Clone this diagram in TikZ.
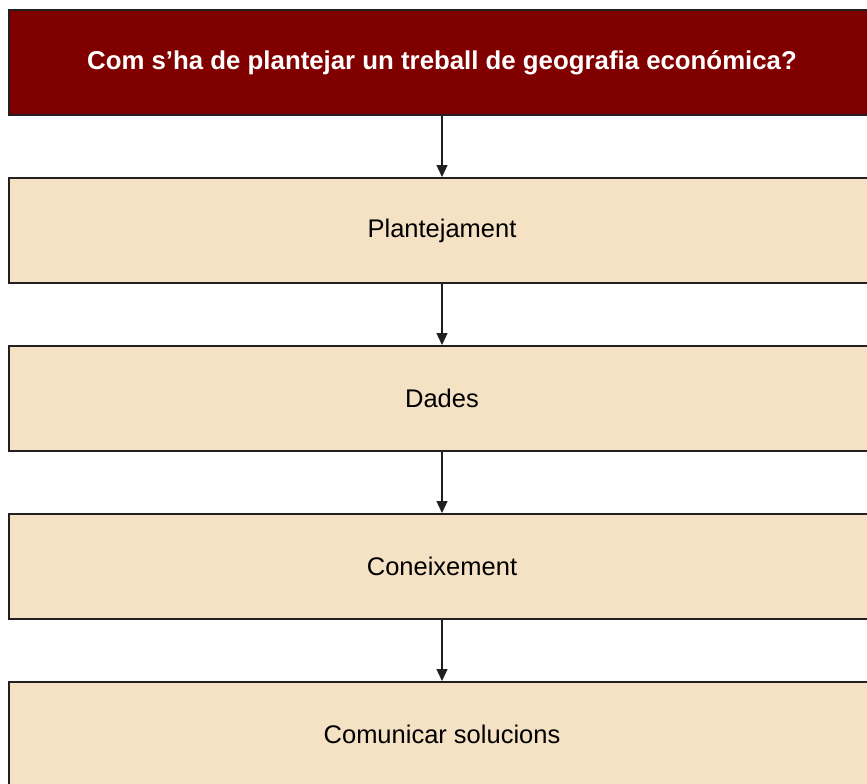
\documentclass[tikz,border=0pt]{standalone}
\usepackage{fontspec}
\setmainfont{Liberation Sans}
\usepackage{tikz}
\usetikzlibrary{shapes,arrows.meta}
\tikzstyle{block} = [rectangle, draw=bdark, line width=2pt, align=center, minimum width=866pt, minimum height=105pt, fill=bsand, font=\fontsize{25.5}{30}\selectfont]
\tikzstyle{arrow} = [draw=bdark, line width=1.4pt, -{Triangle[width=11pt,length=12pt]}]
\definecolor{bdark}{HTML}{231f20}
\definecolor{bsand}{HTML}{f5e1c4}
\definecolor{bmaroon}{HTML}{800000}

\begin{document}
\begin{tikzpicture}[auto]
\clip (0,0) rectangle (867pt,-784pt);

%% question
\node[block, fill=bmaroon, text=white, font=\bfseries\fontsize{25.8}{30}\selectfont] at (442pt,-62.5pt) (question) {Com s'ha de plantejar un treball de geografia económica?};

%% steps
\node[block] at (442pt,-230.5pt) (plantejament) {Plantejament};
\node[block] at (442pt,-398.5pt) (dades) {Dades};
\node[block] at (442pt,-566.5pt) (coneixement) {Coneixement};
\node[block] at (442pt,-734.5pt) (comunicar) {Comunicar solucions};

\path[arrow] (question.south) -- (plantejament.north);
\path[arrow] (plantejament.south) -- (dades.north);
\path[arrow] (dades.south) -- (coneixement.north);
\path[arrow] (coneixement.south) -- (comunicar.north);
\end{tikzpicture}
\end{document}
